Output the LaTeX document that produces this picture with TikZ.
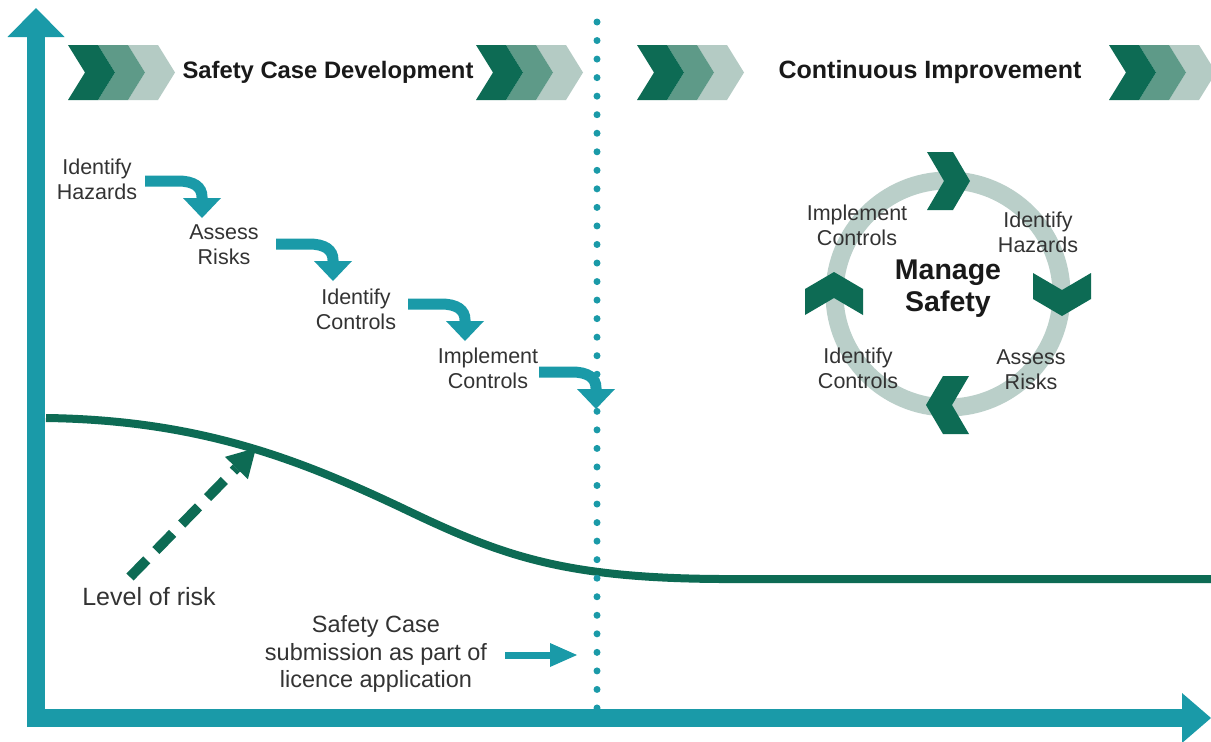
\documentclass[tikz,border=0pt]{standalone}
\usepackage{fontspec}
\setmainfont{Liberation Sans}
\usetikzlibrary{arrows.meta}
\definecolor{teal1}{HTML}{1A9AA8}
\definecolor{dgreen}{HTML}{0D6B54}
\definecolor{mgreen}{HTML}{5E9A88}
\definecolor{lgreen}{HTML}{B4CBC4}
\definecolor{ringc}{HTML}{BACFC9}
\definecolor{labgray}{HTML}{333333}
\begin{document}
\begin{tikzpicture}[x=1pt,y=-1pt,
  lab/.style={font=\fontsize{21.5}{25}\selectfont, text=labgray, align=center, inner sep=0pt},
  biglab/.style={font=\fontsize{23.5}{27.5}\selectfont, text=labgray, align=center, inner sep=0pt},
  hdr/.style={font=\bfseries\fontsize{25}{30}\selectfont, text=black!90, inner sep=0pt},
  manage/.style={font=\bfseries\fontsize{28.5}{32}\selectfont, text=black!90, align=center, inner sep=0pt},
  stair/.style={draw=teal1, line width=11pt, -{Triangle[width=38pt,length=20pt,line width=0pt]}},
  subarrow/.style={draw=teal1, line width=7pt, -{Triangle[width=24pt,length=27pt,line width=0pt]}},
  riskarrow/.style={draw=dgreen, line width=10pt, dash pattern=on 24pt off 13pt, -{Triangle[width=32pt,length=28pt,line width=0pt]}},
  riskline/.style={draw=dgreen, line width=8pt},
  dots/.style={draw=teal1, line width=7pt, line cap=round, dash pattern=on 0pt off 18.54pt},
  yaxis/.style={draw=teal1, line width=18pt, -{Triangle[width=57pt,length=29pt,line width=0pt]}},
  xaxis/.style={draw=teal1, line width=18pt, -{Triangle[width=50pt,length=29pt,line width=0pt]}},
  ringstyle/.style={draw=ringc, line width=18pt},
  hchevs/.pic={
    \fill[lgreen] (60,0) -- (90,0) -- (107,27.5) -- (90,55) -- (60,55) -- (77,27.5) -- cycle;
    \fill[mgreen] (30,0) -- (60,0) -- (77,27.5) -- (60,55) -- (30,55) -- (47,27.5) -- cycle;
    \fill[dgreen] (0,0) -- (30,0) -- (47,27.5) -- (30,55) -- (0,55) -- (17,27.5) -- cycle;
  },
  rchev/.pic={
    \fill[dgreen] (-21,-29) -- (5,-29) -- (22,0) -- (5,29) -- (-21,29) -- (-4,0) -- cycle;
  }
]
\useasboundingbox (0,0) rectangle (1211,742);
\fill[white] (0,0) rectangle (1211,742);

% header chevrons
\pic at (68,45) {hchevs};
\pic at (476,45) {hchevs};
\pic at (637,45) {hchevs};
\pic at (1109,45) {hchevs};

\node[hdr, font=\bfseries\fontsize{23.8}{30}\selectfont] (scd) at (328,72) {Safety Case Development};
\node[hdr] (ci) at (930,72) {Continuous Improvement};

% risk curve
\coordinate (rc0) at (46,418);
\coordinate (rc1) at (400,507);
\coordinate (rc2) at (720,579);
\coordinate (rc3) at (1211,579);
\draw[riskline] (rc0) .. controls (200,420) and (300,460) .. (rc1)
  .. controls (500,555) and (560,578) .. (rc2) -- (rc3);

% dotted divider
\coordinate (dtop) at (597,22);
\coordinate (dbot) at (597,708);
\draw[dots] (dtop) -- (dbot);

% axes
\coordinate (yb) at (36,727);
\coordinate (yt) at (36,8);
\coordinate (xl) at (27,718);
\coordinate (xr) at (1211,718);
\draw[yaxis] (yb) -- (yt);
\draw[xaxis] (xl) -- (xr);

% staircase labels
\node[lab] (ih) at (97,179) {Identify\\Hazards};
\node[lab] (ar) at (224,245) {Assess\\Risks};
\node[lab] (ic) at (356,309) {Identify\\Controls};
\node[lab] (imc) at (488,368) {Implement\\Controls};

% staircase arrows
\coordinate (s1) at (145,181); \coordinate (t1) at (202,218);
\coordinate (s2) at (276,244); \coordinate (t2) at (333,281);
\coordinate (s3) at (408,304); \coordinate (t3) at (465,341);
\coordinate (s4) at (539,372); \coordinate (t4) at (596,409);
\draw[stair] (s1) -- (178,181) .. controls (194,181) and (202,187) .. (202,197) -- (t1);
\draw[stair] (s2) -- (309,244) .. controls (325,244) and (333,250) .. (333,260) -- (t2);
\draw[stair] (s3) -- (441,304) .. controls (457,304) and (465,310) .. (465,320) -- (t3);
\draw[stair] (s4) -- (572,372) .. controls (588,372) and (596,378) .. (596,388) -- (t4);

% level of risk
\node[biglab, font=\fontsize{25}{30}\selectfont] (lor) at (149,597) {Level of risk};
\coordinate (lr1) at (130,577);
\coordinate (lr2) at (256,448);
\draw[riskarrow] (lr1) -- (lr2);

% submission
\node[biglab] (sub) at (376,654) {Safety Case\\submission as part of\\licence application};
\coordinate (subs) at (505,655);
\coordinate (subt) at (577,655);
\draw[subarrow] (subs) -- (subt);

% cycle
\coordinate (cc) at (948,294);
\draw[ringstyle] (cc) circle[radius=113.5pt];
\pic at (948,181) {rchev};
\pic[rotate=-90] at (1062,294) {rchev};
\pic[rotate=180] at (948,405) {rchev};
\pic[rotate=90] at (834,294) {rchev};

\node[manage] (ms) at (948,289) {Manage\\Safety};
\node[lab] (cimp) at (857,225) {Implement\\Controls};
\node[lab] (cih) at (1038,232) {Identify\\Hazards};
\node[lab] (cic) at (858,368) {Identify\\Controls};
\node[lab] (car) at (1031,370) {Assess\\Risks};
\end{tikzpicture}
\end{document}
